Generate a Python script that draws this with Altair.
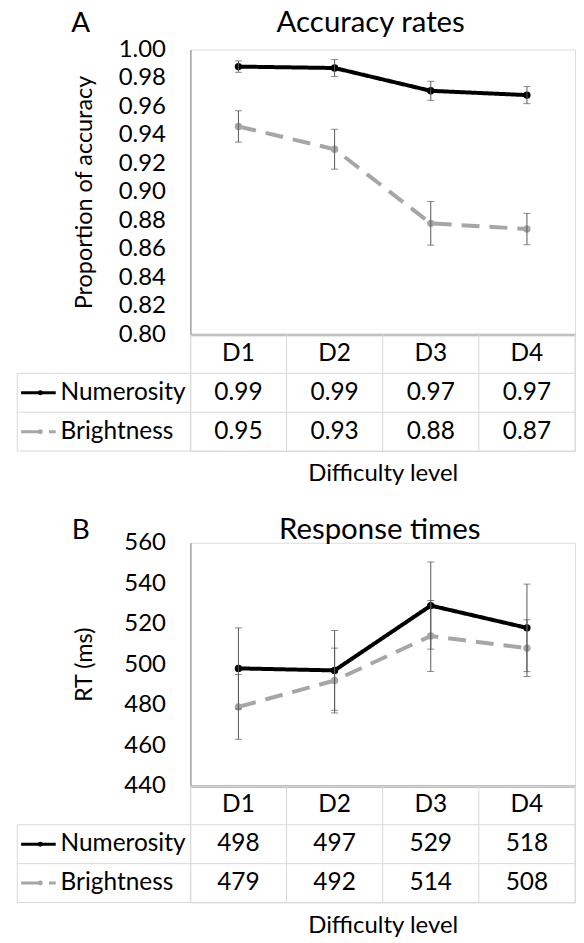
import altair as alt
import pandas as pd

# ---------------- data ----------------
levels = ["D1", "D2", "D3", "D4"]
series_names = ["Numerosity", "Brightness"]

acc_num = [0.988, 0.987, 0.971, 0.968]
acc_num_err = [0.004, 0.006, 0.0067, 0.006]
acc_bri = [0.946, 0.930, 0.878, 0.874]
acc_bri_err = [0.011, 0.014, 0.0153, 0.011]
acc_num_table = ["0.99", "0.99", "0.97", "0.97"]
acc_bri_table = ["0.95", "0.93", "0.88", "0.87"]
acc_ticks = [0.80, 0.82, 0.84, 0.86, 0.88, 0.90, 0.92, 0.94, 0.96, 0.98, 1.00]

rt_num = [498, 497, 529, 518]
rt_num_err = [20, 19.7, 21.5, 21.6]
rt_bri = [479, 492, 514, 508]
rt_bri_err = [16, 16, 17.5, 14]
rt_num_table = ["498", "497", "529", "518"]
rt_bri_table = ["479", "492", "514", "508"]
rt_ticks = [440, 460, 480, 500, 520, 540, 560]

# ---------------- style / layout ----------------
FONT = "Lato"
BLACK = "#000000"
GRAY = "#a6a6a6"
ERR = "#595959"
GRID = "#d9d9d9"
AXIS = "#a6a6a6"
W = 386
LEG_LEFT = -1.8      # legend column left border (in column units)
LEG_ICON = (-1.76, -1.40, -1.56)  # icon start, end, dot
LEG_TEXT = -1.35


def plot_df(num, num_err, bri, bri_err):
    rows = []
    for s, vals, errs in [("Numerosity", num, num_err), ("Brightness", bri, bri_err)]:
        for i, (lv, v, e) in enumerate(zip(levels, vals, errs)):
            rows.append({"level": lv, "pos": i + 0.5, "series": s,
                         "value": v, "lo": v - e, "hi": v + e})
    return pd.DataFrame(rows)


def table_df(num_txt, bri_txt):
    rows = []
    for i, lv in enumerate(levels):
        rows.append({"pos": i + 0.5, "row": 0.5, "text": lv})
    for r, txts in [(1.5, num_txt), (2.5, bri_txt)]:
        for i, t in enumerate(txts):
            rows.append({"pos": i + 0.5, "row": r, "text": t})
    return pd.DataFrame(rows)


def grid_df():
    rows = []
    for c in range(len(levels) + 1):
        rows.append({"x1": c, "x2": c, "y1": 0, "y2": 3})
    rows.append({"x1": LEG_LEFT, "x2": LEG_LEFT, "y1": 1, "y2": 3})
    for r in [1, 2, 3]:
        rows.append({"x1": LEG_LEFT, "x2": len(levels), "y1": r, "y2": r})
    return pd.DataFrame(rows)


xs = alt.Scale(domain=[0, 4], nice=False, zero=False)
color = alt.Color("series:N", scale=alt.Scale(domain=series_names, range=[BLACK, GRAY]), legend=None)
dash = alt.StrokeDash("series:N", scale=alt.Scale(domain=series_names, range=[[1, 0], [18, 10]]), legend=None)


def panel(letter, title, ytitle, ydomain, yvalues, yfmt, height, pdf, tdf,
          title_x, title_y, title_pad):
    ys = alt.Scale(domain=ydomain, nice=False, zero=False)
    xaxis = alt.Axis(labels=False, ticks=False, grid=False, domain=True,
                     domainColor=AXIS, domainWidth=2.5, title=None)
    yaxis = alt.Axis(values=yvalues, format=yfmt, grid=False, ticks=False,
                     domainColor=AXIS, domainWidth=1.5,
                     labelFont=FONT, labelFontSize=24, labelColor="black", labelPadding=25,
                     title=ytitle, titleFont=FONT, titleFontSize=23.5, titleFontWeight="normal",
                     titleColor="black", titlePadding=title_pad)

    def X(f):
        return alt.X(f, scale=xs, axis=xaxis)

    def Y(f):
        return alt.Y(f, scale=ys, axis=yaxis)

    base = alt.Chart(pdf)
    line = base.mark_line(strokeWidth=4).encode(
        x=X("pos:Q"), y=Y("value:Q"), color=color, strokeDash=dash, order="pos:Q")
    pts = base.mark_point(filled=True, size=55, opacity=1).encode(
        x=X("pos:Q"), y=Y("value:Q"), color=color)
    err = base.mark_rule(color=ERR, strokeWidth=1).encode(
        x=X("pos:Q"), y=Y("lo:Q"), y2="hi:Q")
    cap_lo = base.mark_tick(color=ERR, orient="horizontal", size=7, thickness=1).encode(
        x=X("pos:Q"), y=Y("lo:Q"))
    cap_hi = base.mark_tick(color=ERR, orient="horizontal", size=7, thickness=1).encode(
        x=X("pos:Q"), y=Y("hi:Q"))
    let = alt.Chart(pd.DataFrame({"t": [letter]})).mark_text(
        font=FONT, fontSize=28, align="center", baseline="alphabetic", color="black"
    ).encode(text="t:N", x=alt.value(-110), y=alt.value(title_y))
    ttl = alt.Chart(pd.DataFrame({"t": [title]})).mark_text(
        font=FONT, fontSize=29.5, align="center", baseline="alphabetic", color="black"
    ).encode(text="t:N", x=alt.value(title_x), y=alt.value(title_y))

    plot = alt.layer(line, pts, err, cap_lo, cap_hi, let, ttl).properties(
        width=W, height=height)

    # ---- data table below the plot ----
    taxis = alt.Axis(labels=False, ticks=False, grid=False, domain=False,
                     title="Difficulty level", titleFont=FONT, titleFontSize=24,
                     titleFontWeight="normal", titleColor="black", titlePadding=11)
    tys = alt.Scale(domain=[0, 3], reverse=True, nice=False, zero=False)

    def TX(f):
        return alt.X(f, scale=xs, axis=taxis)

    def TY(f):
        return alt.Y(f, scale=tys, axis=None)

    gdf = grid_df()
    grid = alt.Chart(gdf).mark_rule(color=GRID, strokeWidth=1).encode(
        x=TX("x1:Q"), x2="x2:Q", y=TY("y1:Q"), y2="y2:Q")
    cells = alt.Chart(tdf).mark_text(font=FONT, fontSize=24.5, color="black",
                                     align="center", baseline="middle").encode(
        x=TX("pos:Q"), y=TY("row:Q"), text="text:N")
    ldf = pd.DataFrame({"series": series_names, "pos": [LEG_TEXT] * 2, "row": [1.5, 2.5],
                        "x1": [LEG_ICON[0]] * 2, "x2": [LEG_ICON[1]] * 2,
                        "dot": [LEG_ICON[2]] * 2})
    ltext = alt.Chart(ldf).mark_text(font=FONT, fontSize=24.5, color="black",
                                     align="left", baseline="middle").encode(
        x=TX("pos:Q"), y=TY("row:Q"), text="series:N")
    licon = alt.Chart(ldf).mark_rule(strokeWidth=3).encode(
        x=TX("x1:Q"), x2="x2:Q", y=TY("row:Q"), color=color, strokeDash=dash)
    ldot = alt.Chart(ldf).mark_point(filled=True, size=25, opacity=1).encode(
        x=TX("dot:Q"), y=TY("row:Q"), color=color)

    table = alt.layer(grid, cells, ltext, licon, ldot).properties(width=W, height=117)
    return alt.vconcat(plot, table, spacing=0, bounds="flush")


panelA = panel("A", "Accuracy rates", "Proportion of accuracy", [0.80, 1.00], acc_ticks, ".2f", 286,
               plot_df(acc_num, acc_num_err, acc_bri, acc_bri_err),
               table_df(acc_num_table, acc_bri_table), 181, -18, 22)
panelB = panel("B", "Response times", "RT (ms)", [440, 560], rt_ticks, "d", 244,
               plot_df(rt_num, rt_num_err, rt_bri, rt_bri_err),
               table_df(rt_num_table, rt_bri_table), 190, -4, 27)

chart = alt.vconcat(panelA, panelB, spacing=27).properties(
    padding={"left": 8, "top": -3, "right": 0, "bottom": 0}
).configure_view(stroke=None).configure(background="white")

chart.save("out.html", embed_options={"renderer": "svg", "actions": False})
